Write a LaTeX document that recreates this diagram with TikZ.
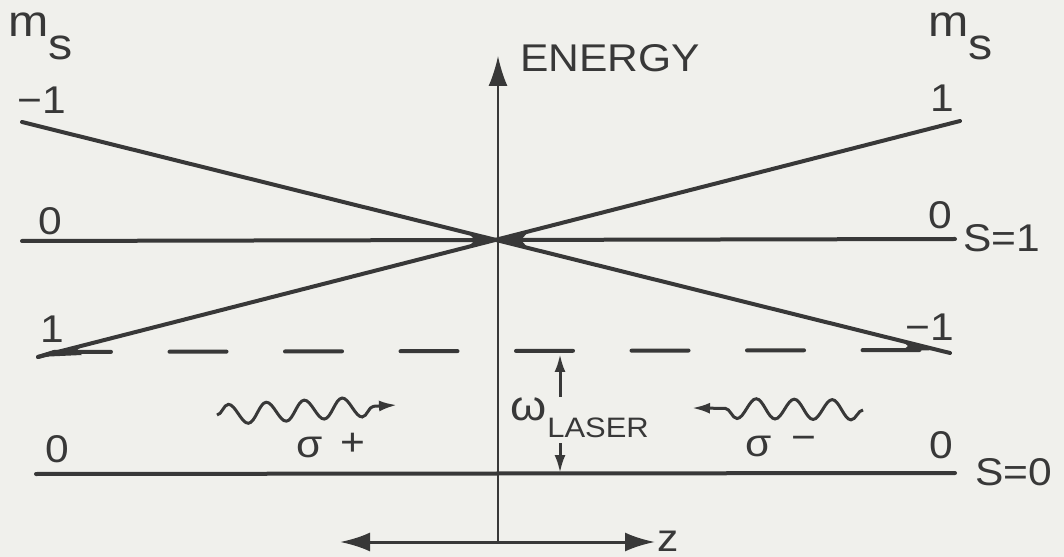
\documentclass[tikz,border=0pt]{standalone}
\usepackage{fontspec}
\setmainfont{Liberation Sans}[FakeStretch=1.1]
\usetikzlibrary{arrows.meta, decorations.pathmorphing}
\definecolor{ink}{HTML}{383838}
\definecolor{paper}{HTML}{F0F0EC}
\tikzset{
  bigtip/.tip={Latex[length=6mm, width=3.8mm]},
  smalltip/.tip={Latex[length=3.6mm, width=2.2mm]},
  level/.style={draw=ink, line width=0.8mm, line cap=round},
  dashlevel/.style={draw=ink, line width=0.8mm, line cap=round, dash pattern=on 11.4mm off 11.7mm},
  thinaxis/.style={draw=ink, line width=0.4mm},
  smallarr/.style={draw=ink, line width=0.6mm, -smalltip},
  wavearr/.style={draw=ink, line width=0.6mm, -smalltip, decorate,
    decoration={snake, segment length=7.6mm, amplitude=2mm, post length=4mm}},
  wedge/.style={fill=ink},
  lbl/.style={text=ink, inner sep=0pt, font=\fontsize{22}{24}\selectfont},
  sublbl/.style={text=ink, inner sep=0pt, font=\fontsize{16}{18}\selectfont},
  mslbl/.style={text=ink, inner sep=0pt, font=\fontsize{25}{28}\selectfont},
}
\begin{document}
\begin{tikzpicture}[x=0.2mm, y=-0.2mm]

% --- Page ---
\fill[paper] (0,0) rectangle (1064,557);
\useasboundingbox (0,0) rectangle (1064,557);

% --- Points ---
\coordinate (eBot) at (498,542);
\coordinate (eTop) at (498,56);
\coordinate (zL) at (340,542);
\coordinate (zR) at (655,542);
\coordinate (cross) at (498,240);
\coordinate (s1L) at (22,241);
\coordinate (s1R) at (955,239);
\coordinate (s0L) at (36,474);
\coordinate (s0R) at (955,473);
\coordinate (mmA) at (22,122);
\coordinate (mmB) at (950,353);
\coordinate (mpA) at (38,357);
\coordinate (mpB) at (960,121);
\coordinate (dL) at (54,352);
\coordinate (dR) at (920,350);

% --- Axes ---
\draw[thinaxis, -bigtip] (eBot) -- (eTop);
\draw[thinaxis, line width=0.6mm, bigtip-bigtip] (zL) -- (zR);

% --- Zeeman levels ---
\draw[level] (s1L) -- (s1R);
\draw[level] (s0L) -- (s0R);
\draw[level] (mmA) -- (mmB);
\draw[level] (mpA) -- (mpB);
\draw[level] (mpA) -- (dL);
\draw[dashlevel] (dL) -- (dR);

% --- Ink wedges at the crossings ---
\fill[wedge] (cross) -- (468,233) -- (475,240) -- (468,247) -- cycle;
\fill[wedge] (cross) -- (528,232) -- (521,240) -- (528,248) -- cycle;
\fill[wedge] (mpA) -- (82,346) -- (76,351) -- (82,355) -- cycle;
\fill[wedge] (938,350) -- (902,341) -- (908,346) -- (902,351) -- cycle;

% --- Labels ---
\node[mslbl, anchor=base west] (msL) at (8,37) {m\raisebox{-4.6mm}{s}};
\node[mslbl, anchor=base west] (msR) at (928,37) {m\raisebox{-4.6mm}{s}};
\node[lbl, anchor=west] (energy) at (520,58) {ENERGY};
\node[lbl] (mmL) at (42,100) {−1};
\node[lbl] (mpR) at (942,98) {1};
\node[lbl] (zeroL) at (50,221) {0};
\node[lbl] (zeroR) at (940,215) {0};
\node[lbl, anchor=west] (sOne) at (963,238) {S=1};
\node[lbl] (mpL) at (52,329) {1};
\node[lbl] (mmR) at (930,327) {−1};
\node[lbl] (gzeroL) at (57,449) {0};
\node[lbl] (gzeroR) at (941,445) {0};
\node[lbl, anchor=west] (sZero) at (975,472) {S=0};
\node[lbl, anchor=west] (zlbl) at (657,541) {z};

% --- Laser frequency ---
\node[lbl, font=\fontsize{24}{26}\selectfont] (omega) at (529,409) {ω};
\node[sublbl, anchor=west] (laser) at (547,428) {LASER};
\coordinate (wUpS) at (560,397);
\coordinate (wUpE) at (560,354);
\coordinate (wDnS) at (560,443);
\coordinate (wDnE) at (560,473);
\draw[smallarr] (wUpS) -- (wUpE);
\draw[smallarr] (wDnS) -- (wDnE);

% --- Photons ---
\coordinate (spS) at (217,415);
\coordinate (spE) at (397,405);
\coordinate (smS) at (863,410);
\coordinate (smE) at (692,408);
\draw[wavearr] (spS) -- (spE);
\draw[wavearr] (smS) -- (smE);
\node[lbl] (sigp) at (331,446) {σ\hspace{3.5mm}\raisebox{0.4mm}{+}};
\node[lbl] (sigm) at (781,446) {σ\hspace{4mm}\raisebox{1.2mm}{−}};

\end{tikzpicture}
\end{document}
